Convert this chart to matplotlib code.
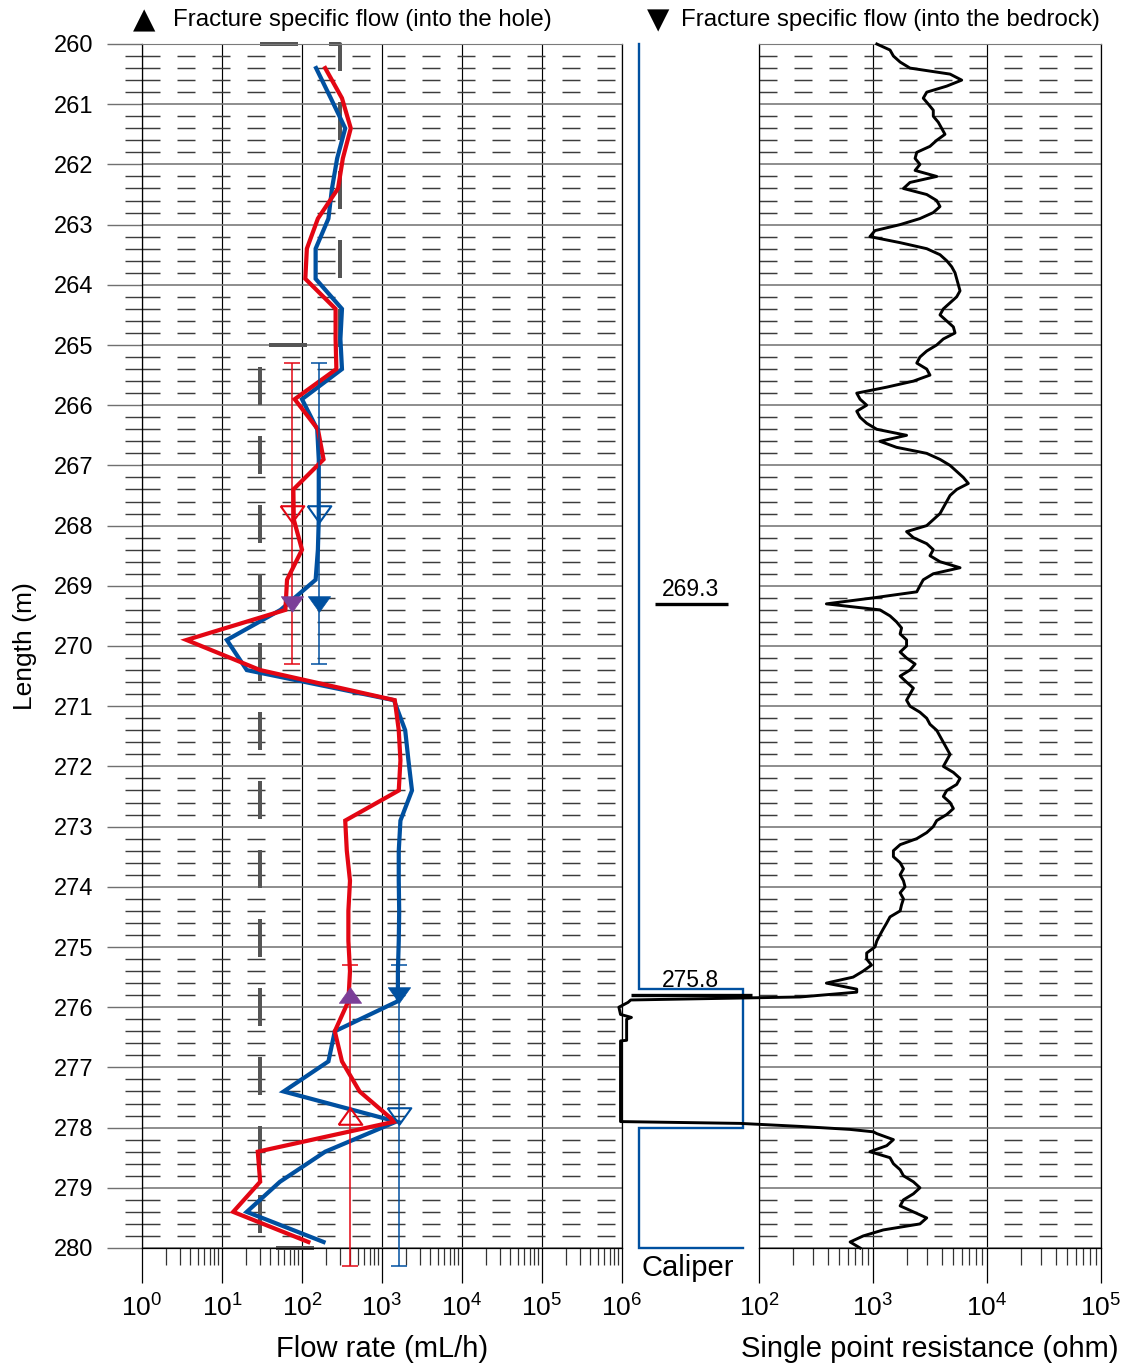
import matplotlib
matplotlib.use('Agg')
import matplotlib.pyplot as plt
from matplotlib.ticker import MultipleLocator, NullFormatter, LogLocator

plt.rcParams['font.family'] = ['Liberation Sans', 'DejaVu Sans']
plt.rcParams['mathtext.fontset'] = 'custom'
plt.rcParams['mathtext.rm'] = 'Liberation Sans'
plt.rcParams['mathtext.it'] = 'Liberation Sans:italic'
plt.rcParams['mathtext.bf'] = 'Liberation Sans:bold'
plt.rcParams['lines.scale_dashes'] = False

# ---------------- data ----------------
flow_depth = [260.4, 260.9, 261.4, 261.9, 262.4, 262.9, 263.4, 263.9, 264.4, 264.9,
              265.4, 265.9, 266.4, 266.9, 267.4, 267.9, 268.4, 268.9, 269.4, 269.9,
              270.4, 270.9, 271.4, 271.9, 272.4, 272.9, 273.4, 273.9, 274.4, 274.9,
              275.4, 275.9, 276.4, 276.9, 277.4, 277.9, 278.4, 278.9, 279.4, 279.9]
flow_blue = [150, 229, 347, 275, 237, 214, 148, 148, 316, 302,
             316, 100, 155, 162, 162, 162, 158, 148, 54, 11.5,
             20.4, 1410, 1950, 2140, 2370, 1700, 1620, 1620, 1640, 1620,
             1580, 1580, 257, 214, 59, 1510, 195, 53, 20.4, 186]
flow_red = [195, 316, 407, 324, 282, 158, 115, 110, 263, 263,
            269, 81, 158, 186, 78, 79, 100, 65, 62, 3.6,
            30, 1445, 1620, 1700, 1620, 347, 363, 398, 380, 380,
            398, 380, 257, 316, 525, 1445, 28, 30, 13.8, 120]

limit_depth = [260, 260, 265, 265, 280, 280]
limit_flow = [30, 300, 300, 30, 30, 300]

section_center = [267.8, 277.8]
section_half = 2.5
red_section_flow = [76, 400]
blue_section_flow = [165, 1620]
fracture_depth = [269.3, 275.8]
fracture_labels = ['269.3', '275.8']

spr_depth = [260.0, 260.1, 260.2, 260.3, 260.4, 260.5, 260.6, 260.7, 260.8, 260.9,
             261.0, 261.1, 261.2, 261.3, 261.4, 261.5, 261.6, 261.7, 261.8, 261.9,
             262.0, 262.1, 262.2, 262.3, 262.4, 262.5, 262.6, 262.7, 262.8, 262.9,
             263.0, 263.1, 263.2, 263.3, 263.4, 263.5, 263.6, 263.7, 263.8, 263.9,
             264.0, 264.1, 264.2, 264.3, 264.4, 264.5, 264.6, 264.7, 264.8, 264.9,
             265.0, 265.1, 265.2, 265.3, 265.4, 265.5, 265.6, 265.7, 265.8, 265.9,
             266.0, 266.1, 266.2, 266.3, 266.4, 266.5, 266.6, 266.7, 266.8, 266.9,
             267.0, 267.1, 267.2, 267.3, 267.4, 267.5, 267.6, 267.7, 267.8, 267.9,
             268.0, 268.1, 268.2, 268.3, 268.4, 268.5, 268.6, 268.7, 268.8, 268.9,
             269.0, 269.1, 269.2, 269.3, 269.4, 269.5, 269.6, 269.7, 269.8, 269.9,
             270.0, 270.1, 270.2, 270.3, 270.4, 270.5, 270.6, 270.7, 270.8, 270.9,
             271.0, 271.1, 271.2, 271.3, 271.4, 271.5, 271.6, 271.7, 271.8, 271.9,
             272.0, 272.1, 272.2, 272.3, 272.4, 272.5, 272.6, 272.7, 272.8, 272.9,
             273.0, 273.1, 273.2, 273.3, 273.4, 273.5, 273.6, 273.7, 273.8, 273.9,
             274.0, 274.1, 274.2, 274.3, 274.4, 274.5, 274.6, 274.7, 274.8, 274.9,
             275.0, 275.1, 275.2, 275.3, 275.4, 275.5, 275.6, 275.7, 275.75, 275.83,
             275.88, 275.92, 276.0, 276.12, 276.17, 276.2, 276.55, 276.56, 277.9, 277.93,
             277.98, 278.03, 278.07, 278.1, 278.2, 278.3, 278.4, 278.5, 278.6, 278.7,
             278.8, 278.9, 279.0, 279.1, 279.2, 279.3, 279.4, 279.5, 279.6, 279.7,
             279.8, 279.9, 280.0]
spr_ohm = [1080, 1410, 1510, 1730, 2110, 4740, 6000, 4430, 2960, 2760,
           3060, 3380, 3380, 3740, 4000, 4280, 3620, 3160, 2420, 2340,
           2580, 2340, 3620, 2110, 1850, 2960, 3620, 3870, 3380, 2580,
           1730, 1040, 940, 1730, 2960, 3870, 4430, 4900, 5240, 5420,
           5600, 5800, 5420, 4740, 4140, 3870, 4430, 5070, 5240, 4140,
           3620, 2960, 2580, 2420, 2960, 3160, 2260, 1320, 720, 770,
           880, 720, 770, 880, 1080, 1970, 1150, 1610, 2960, 3870,
           4740, 5420, 6200, 6860, 5420, 4740, 4430, 4140, 3870, 3380,
           2960, 1970, 2260, 2960, 3380, 3160, 3870, 5800, 3380, 2760,
           2580, 2420, 1010, 390, 1150, 1410, 1610, 1780, 1730, 1970,
           1970, 1730, 1970, 2340, 2110, 1730, 1970, 2260, 2110, 1970,
           2110, 2580, 2960, 3160, 3620, 3870, 4140, 4430, 4740, 4430,
           4140, 5070, 5800, 5420, 4430, 4140, 4740, 5070, 4430, 3620,
           3380, 2960, 2420, 1730, 1510, 1510, 1730, 1850, 1730, 1850,
           1910, 1730, 1850, 1780, 1730, 1410, 1320, 1230, 1150, 1080,
           1040, 880, 880, 970, 820, 670, 390, 720, 720, 230,
           7.5, 7.1, 5.9, 6.1, 7.6, 6.9, 6.9, 6.1, 6.1, 68,
           229, 628, 1007, 1080, 1510, 1320, 940, 1410, 1510, 1730,
           1850, 2260, 2580, 2260, 1850, 1730, 2260, 2960, 2580, 1230,
           820, 630, 770]

caliper_depth = [260.0, 275.7, 275.7, 278.0, 278.0, 280.0, 280.0]
caliper_mm = [76, 76, 142, 142, 76, 76, 142]

depth_ticks = list(range(260, 281))
flow_ticks = [1, 10, 100, 1000, 1e4, 1e5, 1e6]
flow_ticklabels = [r'$10^{0}$', r'$10^{1}$', r'$10^{2}$', r'$10^{3}$',
                   r'$10^{4}$', r'$10^{5}$', r'$10^{6}$']
spr_ticks = [100, 1000, 1e4, 1e5]
spr_ticklabels = [r'$10^{2}$', r'$10^{3}$', r'$10^{4}$', r'$10^{5}$']

# ---------------- styles ----------------
W, H = 1134, 1367
PT = 0.72  # points per pixel
RED = '#E30613'
BLUE = '#0050A0'
PURPLE = '#7B3F98'
GRAY = '#555555'
TRI_DOWN = [(-1, 0.7), (1, 0.7), (0, -0.7), (-1, 0.7)]
TRI_UP = [(-1, -0.7), (1, -0.7), (0, 0.7), (-1, -0.7)]

fig = plt.figure(figsize=(W / 100, H / 100), dpi=100)
bottom = 1 - 1248 / H
height = 1204 / H
ax = fig.add_axes([142 / W, bottom, 480 / W, height])
axc = fig.add_axes([623 / W, bottom, 136 / W, height])
axs = fig.add_axes([759 / W, bottom, 342 / W, height])


def style_axis(a, show_y):
    a.set_xscale('log')
    a.set_ylim(280, 260)
    a.set_yticks(depth_ticks)
    a.yaxis.set_minor_locator(MultipleLocator(0.2))
    a.xaxis.set_minor_locator(LogLocator(base=10, subs=[2, 3, 4, 5, 6, 7, 8, 9], numticks=20))
    a.xaxis.set_minor_formatter(NullFormatter())
    a.grid(which='major', axis='y', color='#7a7a7a', lw=1.2, zorder=0)
    a.grid(which='minor', axis='y', color='#3c3c3c', lw=1.05, linestyle=(0, (18 * PT, 17 * PT)), zorder=0)
    a.grid(which='major', axis='x', color='black', lw=0.85, zorder=0)
    a.tick_params(axis='x', which='major', length=35 * PT, width=0.9, direction='out',
                  labelsize=19, pad=8, color='black')
    a.tick_params(axis='x', which='minor', length=17 * PT, width=0.9, direction='out', color='#333333')
    if show_y:
        a.set_yticklabels([str(t) for t in depth_ticks])
        a.tick_params(axis='y', which='major', length=35 * PT, width=1.0, direction='out',
                      labelsize=17, pad=10, color='#707070')
        a.tick_params(axis='y', which='minor', length=17 * PT, width=1.0, direction='out', color='#3c3c3c')
    else:
        a.tick_params(axis='y', which='both', length=0, labelleft=False)
    for s in ['left', 'right', 'bottom']:
        a.spines[s].set_color('black')
        a.spines[s].set_linewidth(0.9)
    a.spines['top'].set_color('#7a7a7a')
    a.set_axisbelow(True)


# ---------------- flow panel ----------------
style_axis(ax, True)
ax.set_xlim(1, 1e6)
ax.set_xticks(flow_ticks)
ax.set_xticklabels(flow_ticklabels)
ax.set_xlabel('Flow rate (mL/h)', fontsize=21, labelpad=10)
ax.set_ylabel('Length (m)', fontsize=19, labelpad=12)

ax.plot(limit_flow, limit_depth, color=GRAY, lw=4 * PT, solid_capstyle='butt',
        dash_capstyle='butt', linestyle=(0, (38 * PT, 31 * PT)), zorder=2, clip_on=False)
ax.plot(flow_blue, flow_depth, color=BLUE, lw=4.2 * PT, zorder=3, solid_joinstyle='miter')
ax.plot(flow_red, flow_depth, color=RED, lw=4.2 * PT, zorder=4, solid_joinstyle='miter')

for xs, col in [(red_section_flow, RED), (blue_section_flow, BLUE)]:
    cont = ax.errorbar(xs, section_center, yerr=section_half, fmt='none', ecolor=col,
                       elinewidth=1.1, capsize=8 * PT, capthick=1.1, zorder=5)
    for ch in cont.get_children():
        ch.set_clip_on(False)

# open markers at section centers
ax.plot([red_section_flow[0]], [section_center[0]], linestyle='none', marker=TRI_DOWN, ms=17,
        mfc='none', mec=RED, mew=1.5, zorder=6, clip_on=False)
ax.plot([red_section_flow[1]], [section_center[1]], linestyle='none', marker=TRI_UP, ms=17,
        mfc='none', mec=RED, mew=1.5, zorder=6, clip_on=False)
ax.plot(blue_section_flow, section_center, linestyle='none', marker=TRI_DOWN, ms=17,
        mfc='none', mec=BLUE, mew=1.5, zorder=6, clip_on=False)
# filled markers at fractures
ax.plot([red_section_flow[0]], [fracture_depth[0]], linestyle='none', marker=TRI_DOWN, ms=16,
        mfc=PURPLE, mec=PURPLE, mew=0.5, zorder=7)
ax.plot([red_section_flow[1]], [fracture_depth[1]], linestyle='none', marker=TRI_UP, ms=16,
        mfc=PURPLE, mec=PURPLE, mew=0.5, zorder=7)
ax.plot(blue_section_flow, fracture_depth, linestyle='none', marker=TRI_DOWN, ms=16,
        mfc=BLUE, mec=BLUE, mew=0.5, zorder=7)

# ---------------- caliper panel ----------------
axc.set_xlim(65.8, 152.4)
axc.set_ylim(280, 260)
axc.axis('off')
axc.plot(caliper_mm, caliper_depth, color=BLUE, lw=1.7, clip_on=False, solid_joinstyle='miter')
under_x = [(86.2, 132.6), (70.9, 147.9)]
for d, lab, (x0, x1) in zip(fracture_depth, fracture_labels, under_x):
    axc.text(108.5, d - 0.05, lab, ha='center', va='bottom', fontsize=16.5, color='black')
    axc.plot([x0, x1], [d, d], color='black', lw=2.4, solid_capstyle='butt', clip_on=False, zorder=5)
fig.text(688 / W, 1 - 1268 / H, 'Caliper', ha='center', va='center', fontsize=21)

# ---------------- SPR panel ----------------
style_axis(axs, False)
axs.set_xlim(100, 1e5)
axs.set_xticks(spr_ticks)
axs.set_xticklabels(spr_ticklabels)
axs.set_xlabel('Single point resistance (ohm)', fontsize=21, labelpad=10)
axs.plot(spr_ohm, spr_depth, color='black', lw=2.1, clip_on=False, zorder=4)

# ---------------- header legend ----------------
ty = 1 - 20 / H
fig.text(144 / W, ty, '\u25B2', ha='center', va='center', fontsize=21,
         family=['DejaVu Sans'])
fig.text(173 / W, ty, 'Fracture specific flow (into the hole)', ha='left', va='center', fontsize=17.3)
fig.text(658 / W, ty, '\u25BC', ha='center', va='center', fontsize=21,
         family=['DejaVu Sans'])
fig.text(681 / W, ty, 'Fracture specific flow (into the bedrock)', ha='left', va='center', fontsize=17.3)

fig.savefig('out.png', dpi=100)
